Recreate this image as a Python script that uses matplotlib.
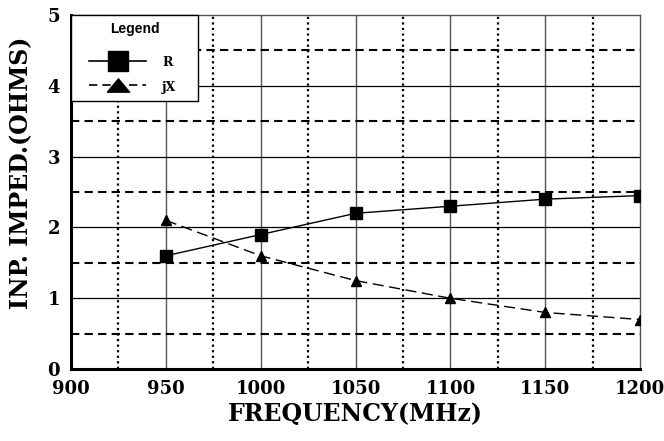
import matplotlib
matplotlib.use('Agg')
import matplotlib.pyplot as plt
from matplotlib.lines import Line2D
from matplotlib.legend_handler import HandlerLine2D

freq = [950, 1000, 1050, 1100, 1150, 1200]
r_vals = [1.6, 1.9, 2.2, 2.3, 2.4, 2.45]
jx_vals = [2.1, 1.6, 1.25, 1.0, 0.8, 0.7]
xticks = [900, 950, 1000, 1050, 1100, 1150, 1200]
yticks = [0, 1, 2, 3, 4, 5]
series_names = ['R', 'jX']

serif = {'family': 'DejaVu Serif', 'weight': 'bold'}

fig = plt.figure(figsize=(6.64, 4.41), dpi=100)
ax = fig.add_axes([0.107, 0.163, 0.857, 0.803])

ax.set_xlim(900, 1200)
ax.set_ylim(0, 5)

# grid: solid at majors, dotted / dashed at halves
for x in [950, 1000, 1050, 1100, 1150]:
    ax.axvline(x, color='#555555', linewidth=1.0, zorder=1)
for x in [925, 975, 1025, 1075, 1125, 1175]:
    ax.axvline(x, color='black', linestyle=(0, (1, 1.5)), linewidth=1.6, zorder=1)
for y in [1, 2, 3, 4]:
    ax.axhline(y, color='black', linewidth=0.9, zorder=1)
for y in [0.5, 1.5, 2.5, 3.5, 4.5]:
    ax.axhline(y, color='black', linestyle=(0, (4, 2.5)), linewidth=1.5, zorder=1)

ax.plot(freq, r_vals, color='black', linewidth=1.0, marker='s', markersize=8, zorder=3)
ax.plot(freq, jx_vals, color='black', linewidth=1.0, linestyle=(0, (8, 4)),
        marker='^', markersize=7.5, zorder=3)

ax.set_xticks(xticks)
ax.set_yticks(yticks)
ax.set_xticklabels([str(t) for t in xticks], fontdict=serif, fontsize=13)
ax.set_yticklabels([str(t) for t in yticks], fontdict=serif, fontsize=13)
ax.tick_params(length=0, pad=8)

ax.spines['left'].set_linewidth(2.2)
ax.spines['bottom'].set_linewidth(2.2)
ax.spines['top'].set_linewidth(1.0)
ax.spines['top'].set_color('#555555')
ax.spines['right'].set_linewidth(1.0)
ax.spines['right'].set_color('#555555')

ax.set_xlabel('FREQUENCY(MHz)', fontdict=serif, fontsize=17, labelpad=3)
ax.set_ylabel('INP. IMPED.(OHMS)', fontdict=serif, fontsize=17)
ax.yaxis.set_label_coords(-0.067, 0.555)

# legend box
flat_tri = [(-1, -0.6), (1, -0.6), (0, 0.6), (-1, -0.6)]
handles = [
    Line2D([], [], color='black', linewidth=1.2, marker='s', markersize=14.5),
    Line2D([], [], color='black', linewidth=1.2, linestyle=(0, (5, 3)),
           marker=flat_tri, markersize=16),
]
leg = ax.legend(handles, series_names, loc='upper left',
                bbox_to_anchor=(0, 0.5, 0.223, 0.5), mode='expand',
                borderaxespad=0, frameon=True, fancybox=False,
                handlelength=5.4, handleheight=1.2, handletextpad=1.28,
                labelspacing=0.88, borderpad=0.6,
                handler_map={Line2D: HandlerLine2D(xpad=0.84)},
                title='Legend\n', prop={'family': 'DejaVu Serif', 'weight': 'bold', 'size': 9})
leg.get_title().set_fontfamily('Liberation Sans')
leg.get_title().set_fontweight('bold')
leg.get_title().set_fontsize(10)
leg.get_title().set_linespacing(0.45)
leg.get_frame().set_edgecolor('black')
leg.get_frame().set_linewidth(1.0)
leg.get_frame().set_alpha(1)
leg.set_zorder(5)

fig.savefig('out.png', dpi=100)
